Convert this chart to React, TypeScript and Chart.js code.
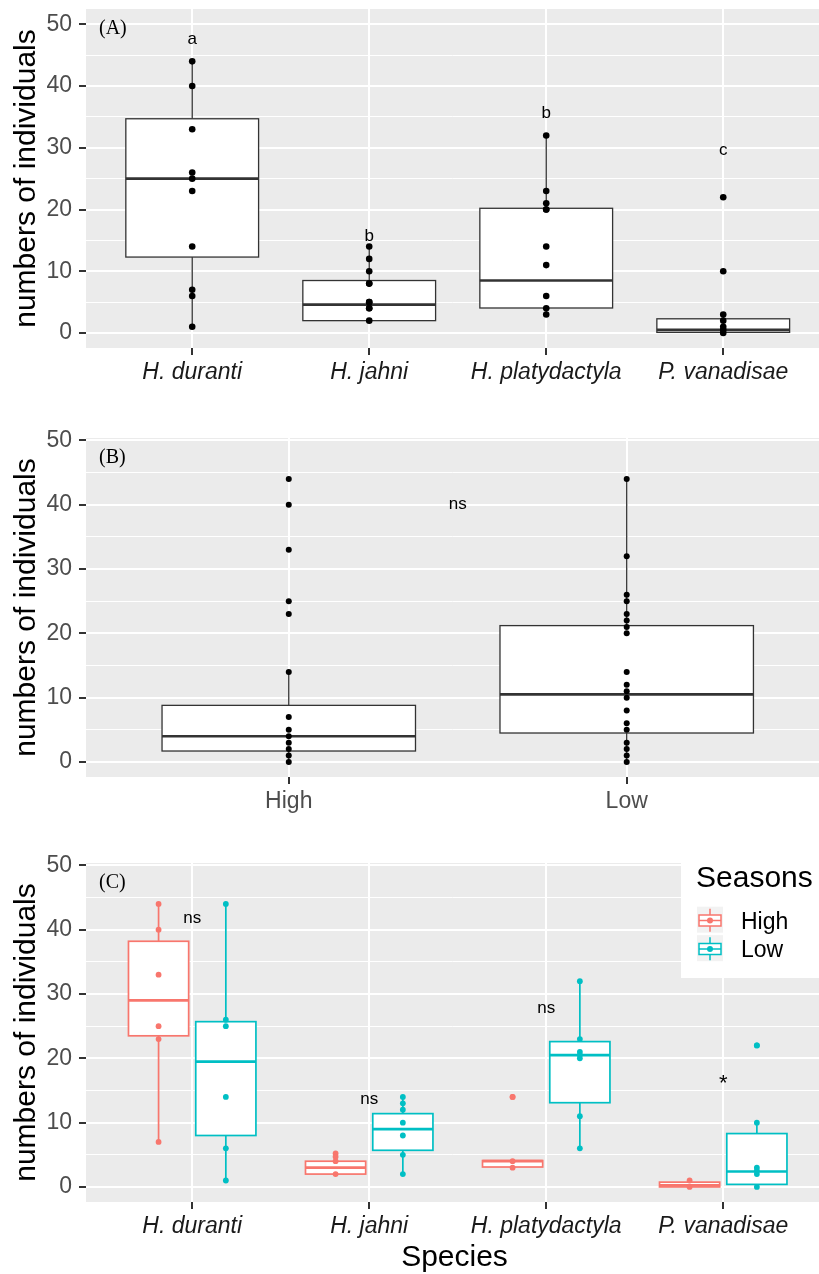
import React, { useEffect, useRef } from "react";
import { Chart, registerables } from "chart.js";
Chart.register(...registerables);

const FONT = "'Liberation Sans', Arial, sans-serif";
const SERIF = "'Liberation Serif', 'Times New Roman', serif";

// ---------- shared categories / ticks ----------
const species = ["H. duranti", "H. jahni", "H. platydactyla", "P. vanadisae"];
const seasons = ["High", "Low"];
const seasonColors = ["#F8766D", "#00BFC4"];
const yTicks = [0, 5, 10, 15, 20, 25, 30, 35, 40, 45, 50];

// ---------- Panel A: individuals per species ----------
const ptsA_duranti = [44, 40, 33, 26, 25, 23, 14, 7, 6, 1];
const ptsA_jahni = [14, 12, 10, 8, 8, 5, 5, 4, 4, 2];
const ptsA_platydactyla = [32, 23, 21, 20, 20, 14, 11, 6, 4, 3];
const ptsA_vanadisae = [22, 10, 3, 2, 1, 0.5, 0];
const boxA_lo = [1, 2, 3, 0];
const boxA_q1 = [12.3, 2.0, 4.05, 0.1];
const boxA_med = [25, 4.6, 8.5, 0.5];
const boxA_q3 = [34.7, 8.5, 20.2, 2.3];
const boxA_hi = [44, 14, 32, 3];
const lettersA = ["a", "b", "b", "c"];
const letterYA = [47.6, 15.7, 35.6, 29.6];

// ---------- Panel B: individuals per season ----------
const ptsB_high = [44, 40, 33, 25, 23, 14, 7, 5, 4, 3, 2, 1, 0];
const ptsB_low = [44, 32, 26, 25, 23, 22, 21, 20, 14, 12, 11, 10, 8, 6, 5, 3, 2, 1, 0];
const boxB_lo = [0, 0];
const boxB_q1 = [1.7, 4.5];
const boxB_med = [4.0, 10.5];
const boxB_q3 = [8.8, 21.2];
const boxB_hi = [14, 44];
const sigB = ["ns"];
const sigBX = [1.5];
const sigBY = [40];

// ---------- Panel C: species x season ----------
const ptsC_high = [
  [44, 40, 33, 25, 23, 7],
  [5.2, 4.7, 4, 2],
  [14, 14, 4, 3],
  [1, 0],
];
const ptsC_low = [
  [44, 26, 25, 14, 6, 1],
  [14, 13, 12, 10, 8, 5, 2],
  [32, 23, 21, 20.5, 20, 11, 6],
  [22, 22, 10, 3, 2.5, 2, 0],
];
const boxC_high_lo = [7, 2, 3, 0];
const boxC_high_q1 = [23.5, 2.0, 3.1, 0];
const boxC_high_med = [29.0, 3.0, 4.0, 0.25];
const boxC_high_q3 = [38.2, 4.0, 4.1, 0.75];
const boxC_high_hi = [44, 5, 4.1, 1];
const boxC_low_lo = [1, 2, 6, 0];
const boxC_low_q1 = [8.0, 5.7, 13.1, 0.4];
const boxC_low_med = [19.5, 9.0, 20.5, 2.4];
const boxC_low_q3 = [25.7, 11.4, 22.6, 8.3];
const boxC_low_hi = [44, 14, 32, 10];
const sigC = ["ns", "ns", "ns", "*"];
const sigCY = [41.7, 13.6, 27.7, 16.0];

// ---------- types ----------
type Group = {
  x: number; lo: number; q1: number; med: number; q3: number; hi: number;
  pts: number[]; color: string; ptColor: string; width: number; lw: number; medLw: number; r: number;
};
type TextItem = { x: number; y: number; t: string; size: number };
type PanelCfg = {
  height: number; top: number; xAxisH: number; xmax: number; ymin: number; ymax: number;
  cats: string[]; catItalic: boolean; catColor: string; groups: Group[]; texts: TextItem[];
  tag: string; xTitle?: string; legend?: boolean;
};

function buildPanelA(): PanelCfg {
  const pts = [ptsA_duranti, ptsA_jahni, ptsA_platydactyla, ptsA_vanadisae];
  return {
    height: 400, top: 9, xAxisH: 52, xmax: 4.541, ymin: -2.43, ymax: 52.48,
    cats: species, catItalic: true, catColor: "#1a1a1a",
    groups: species.map((_, i) => ({
      x: i + 1, lo: boxA_lo[i], q1: boxA_q1[i], med: boxA_med[i], q3: boxA_q3[i], hi: boxA_hi[i],
      pts: pts[i], color: "#333333", ptColor: "#000000", width: 0.75, lw: 1.3, medLw: 2.6, r: 3.3,
    })),
    texts: lettersA.map((t, i) => ({ x: i + 1, y: letterYA[i], t, size: 17 })),
    tag: "(A)",
  };
}

function buildPanelB(): PanelCfg {
  const pts = [ptsB_high, ptsB_low];
  return {
    height: 420, top: 38, xAxisH: 43, xmax: 2.569, ymin: -2.34, ymax: 50.37,
    cats: seasons, catItalic: false, catColor: "#4d4d4d",
    groups: seasons.map((_, i) => ({
      x: i + 1, lo: boxB_lo[i], q1: boxB_q1[i], med: boxB_med[i], q3: boxB_q3[i], hi: boxB_hi[i],
      pts: pts[i], color: "#333333", ptColor: "#000000", width: 0.75, lw: 1.3, medLw: 2.6, r: 3.0,
    })),
    texts: sigB.map((t, i) => ({ x: sigBX[i], y: sigBY[i], t, size: 17 })),
    tag: "(B)",
  };
}

function buildPanelC(): PanelCfg {
  const groups: Group[] = [];
  species.forEach((_, i) => {
    groups.push({
      x: i + 1 - 0.19, lo: boxC_high_lo[i], q1: boxC_high_q1[i], med: boxC_high_med[i], q3: boxC_high_q3[i], hi: boxC_high_hi[i],
      pts: ptsC_high[i], color: seasonColors[0], ptColor: seasonColors[0], width: 0.34, lw: 1.7, medLw: 2.7, r: 2.9,
    });
    groups.push({
      x: i + 1 + 0.19, lo: boxC_low_lo[i], q1: boxC_low_q1[i], med: boxC_low_med[i], q3: boxC_low_q3[i], hi: boxC_low_hi[i],
      pts: ptsC_low[i], color: seasonColors[1], ptColor: seasonColors[1], width: 0.34, lw: 1.7, medLw: 2.7, r: 2.9,
    });
  });
  return {
    height: 454, top: 43, xAxisH: 72, xmax: 4.541, ymin: -2.34, ymax: 50.37,
    cats: species, catItalic: true, catColor: "#1a1a1a",
    groups,
    texts: sigC.map((t, i) => ({ x: i + 1, y: sigCY[i], t, size: t === "*" ? 22 : 17 })),
    tag: "(C)", xTitle: "Species", legend: true,
  };
}

function makeChart(canvas: HTMLCanvasElement, cfg: PanelCfg) {
  const plugin = {
    id: "boxpanel",
    beforeDraw(chart: any) {
      const { ctx, chartArea: a } = chart;
      ctx.save();
      ctx.fillStyle = "#EBEBEB";
      ctx.fillRect(a.left, a.top, a.right - a.left, a.bottom - a.top);
      ctx.restore();
    },
    beforeDatasetsDraw(chart: any) {
      const { ctx } = chart;
      const xs = chart.scales.x;
      const ys = chart.scales.y;
      ctx.save();
      for (const g of cfg.groups) {
        const xc = xs.getPixelForValue(g.x);
        const x0 = xs.getPixelForValue(g.x - g.width / 2);
        const x1 = xs.getPixelForValue(g.x + g.width / 2);
        const yLo = ys.getPixelForValue(g.lo);
        const yQ1 = ys.getPixelForValue(g.q1);
        const yMed = ys.getPixelForValue(g.med);
        const yQ3 = ys.getPixelForValue(g.q3);
        const yHi = ys.getPixelForValue(g.hi);
        ctx.strokeStyle = g.color;
        ctx.lineWidth = g.lw;
        ctx.beginPath();
        ctx.moveTo(xc, yHi); ctx.lineTo(xc, yQ3);
        ctx.moveTo(xc, yQ1); ctx.lineTo(xc, yLo);
        ctx.stroke();
        ctx.fillStyle = "#ffffff";
        ctx.fillRect(x0, yQ3, x1 - x0, yQ1 - yQ3);
        ctx.strokeRect(x0, yQ3, x1 - x0, yQ1 - yQ3);
        ctx.lineWidth = g.medLw;
        ctx.beginPath();
        ctx.moveTo(x0, yMed); ctx.lineTo(x1, yMed);
        ctx.stroke();
      }
      ctx.restore();
    },
    afterDatasetsDraw(chart: any) {
      const { ctx, chartArea: a } = chart;
      const xs = chart.scales.x;
      const ys = chart.scales.y;
      ctx.save();
      ctx.fillStyle = "#000000";
      ctx.textAlign = "center";
      ctx.textBaseline = "middle";
      for (const t of cfg.texts) {
        ctx.font = `${t.size}px ${FONT}`;
        ctx.fillText(t.t, xs.getPixelForValue(t.x), ys.getPixelForValue(t.y));
      }
      // panel tag
      ctx.font = `20px ${SERIF}`;
      ctx.textAlign = "left";
      ctx.fillStyle = "#000000";
      ctx.fillText(cfg.tag, a.left + 13, a.top + 20);
      if (cfg.xTitle) {
        ctx.textAlign = "center";
        ctx.textBaseline = "alphabetic";
        ctx.font = `30px ${FONT}`;
        ctx.fillText(cfg.xTitle, (a.left + a.right) / 2 + 2, cfg.height - 8);
      }
      if (cfg.legend) {
        ctx.textAlign = "left";
        ctx.fillStyle = "#ffffff";
        ctx.fillRect(681, a.top, 140, 115);
        ctx.fillStyle = "#000000";
        ctx.textBaseline = "alphabetic";
        ctx.font = `30px ${FONT}`;
        ctx.fillText("Seasons", 696, 66.7);
        seasons.forEach((s, i) => {
          const ky = 86.7 + i * 28.5;
          const col = seasonColors[i];
          ctx.fillStyle = "#F2F2F2";
          ctx.fillRect(697, ky, 26, 26);
          ctx.strokeStyle = col;
          ctx.lineWidth = 1.5;
          ctx.beginPath();
          ctx.moveTo(710, ky + 2); ctx.lineTo(710, ky + 8.3);
          ctx.moveTo(710, ky + 19.3); ctx.lineTo(710, ky + 25);
          ctx.stroke();
          ctx.fillStyle = "#ffffff";
          ctx.fillRect(699, ky + 8.3, 22, 11);
          ctx.strokeRect(699, ky + 8.3, 22, 11);
          ctx.beginPath();
          ctx.moveTo(699, ky + 13.8); ctx.lineTo(721, ky + 13.8);
          ctx.stroke();
          ctx.fillStyle = col;
          ctx.beginPath();
          ctx.arc(710, ky + 13.8, 3, 0, Math.PI * 2);
          ctx.fill();
          ctx.fillStyle = "#000000";
          ctx.font = `23px ${FONT}`;
          ctx.fillText(s, 741, ky + 22);
        });
      }
      ctx.restore();
    },
  };

  return new Chart(canvas, {
    type: "scatter",
    data: {
      datasets: cfg.groups.map((g) => ({
        data: g.pts.map((v) => ({ x: g.x, y: v })),
        pointRadius: g.r,
        pointHoverRadius: g.r,
        pointBackgroundColor: g.ptColor,
        pointBorderColor: g.ptColor,
        pointBorderWidth: 0,
        showLine: false,
      })),
    },
    options: {
      responsive: false,
      animation: false,
      devicePixelRatio: 1,
      events: [],
      layout: { autoPadding: false, padding: { top: cfg.top, left: 0, right: 0, bottom: 0 } },
      plugins: { legend: { display: false }, tooltip: { enabled: false } },
      scales: {
        x: {
          type: "linear",
          min: 0.4,
          max: cfg.xmax,
          bounds: "data",
          afterBuildTicks: (s: any) => {
            s.ticks = cfg.cats.map((_, i) => ({ value: i + 1 }));
          },
          afterFit: (s: any) => {
            s.height = cfg.xAxisH;
            s.paddingLeft = 0;
            s.paddingRight = 0;
            s.paddingTop = 0;
            s.paddingBottom = 0;
          },
          ticks: {
            autoSkip: false,
            maxRotation: 0,
            minRotation: 0,
            padding: 4,
            color: cfg.catColor,
            font: { family: FONT, size: 23, style: cfg.catItalic ? "italic" : "normal" },
            callback: (v: any) => cfg.cats[Math.round(Number(v)) - 1] ?? "",
          },
          grid: {
            color: "#ffffff",
            lineWidth: 2,
            tickColor: "#333333",
            tickLength: 7,
            tickWidth: 2,
          },
          border: { display: false },
        },
        y: {
          type: "linear",
          min: cfg.ymin,
          max: cfg.ymax,
          bounds: "data",
          afterBuildTicks: (s: any) => {
            s.ticks = yTicks.map((v) => ({ value: v }));
          },
          afterFit: (s: any) => {
            s.width = 86;
            s.paddingLeft = 0;
            s.paddingRight = 0;
            s.paddingTop = 0;
            s.paddingBottom = 0;
          },
          ticks: {
            padding: 7,
            color: "#4d4d4d",
            font: { family: FONT, size: 23 },
            callback: (v: any) => (Number(v) % 10 === 0 ? String(v) : ""),
          },
          grid: {
            color: "#ffffff",
            lineWidth: (c: any) => (c.tick && c.tick.value % 10 === 0 ? 2 : 1),
            tickColor: (c: any) => (c.tick && c.tick.value % 10 === 0 ? "#333333" : "rgba(0,0,0,0)"),
            tickLength: 7,
            tickWidth: 2,
          },
          border: { display: false },
          title: {
            display: true,
            text: "numbers of individuals",
            color: "#000000",
            font: { family: FONT, size: 30, lineHeight: 1.2 },
            padding: { top: 9, bottom: 0 },
          },
        },
      },
    } as any,
    plugins: [plugin],
  });
}

export default function App() {
  const refA = useRef<HTMLCanvasElement>(null);
  const refB = useRef<HTMLCanvasElement>(null);
  const refC = useRef<HTMLCanvasElement>(null);

  useEffect(() => {
    const charts = [
      makeChart(refA.current as HTMLCanvasElement, buildPanelA()),
      makeChart(refB.current as HTMLCanvasElement, buildPanelB()),
      makeChart(refC.current as HTMLCanvasElement, buildPanelC()),
    ];
    return () => charts.forEach((c) => c.destroy());
  }, []);

  return (
    <div style={{ position: "absolute", left: 0, top: 0, width: 819, height: 1274, background: "#ffffff" }}>
      <canvas ref={refA} width={819} height={400} style={{ position: "absolute", left: 0, top: 0, width: 819, height: 400 }} />
      <canvas ref={refB} width={819} height={420} style={{ position: "absolute", left: 0, top: 400, width: 819, height: 420 }} />
      <canvas ref={refC} width={819} height={454} style={{ position: "absolute", left: 0, top: 820, width: 819, height: 454 }} />
    </div>
  );
}
